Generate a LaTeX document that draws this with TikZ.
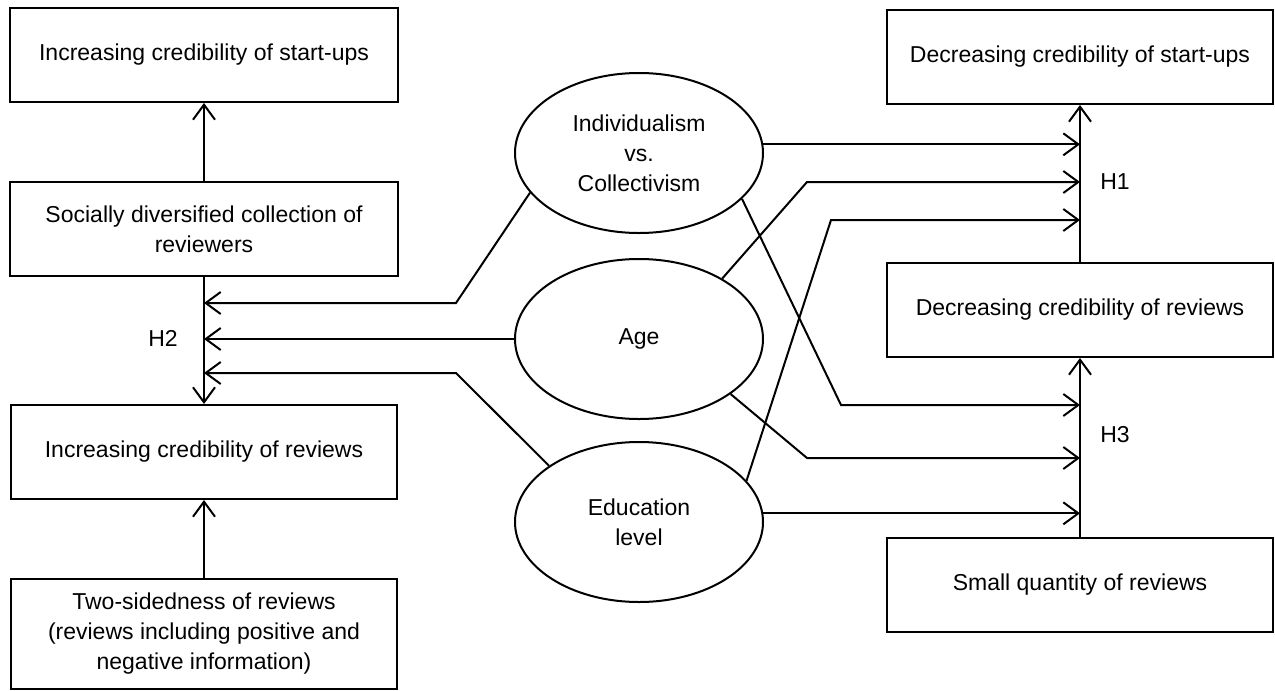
\documentclass[tikz,border=0pt]{standalone}
\usepackage{fontspec}
\setmainfont{Liberation Sans}
\usetikzlibrary{shapes.geometric,arrows.meta}

\tikzset{
  box/.style={draw, line width=2pt, minimum width=388pt, minimum height=94pt, inner sep=0pt, align=center, font=\fontsize{23}{30}\selectfont},
  factor/.style={draw, ellipse, line width=2pt, minimum width=248pt, minimum height=160pt, inner sep=0pt, align=center, font=\fontsize{23}{30}\selectfont},
  arr/.style={line width=2pt, -{Straight Barb[length=15pt,width=22pt]}},
  hyp/.style={font=\fontsize{23}{30}\selectfont}
}

\begin{document}
\begin{tikzpicture}[x=1pt,y=-1pt]
\useasboundingbox (0,0) rectangle (1275,691);

% Left boxes
\node[box] (incStart) at (204,55) {Increasing credibility of start-ups};
\node[box] (diverse) at (204,229) {Socially diversified collection of\\reviewers};
\node[box, minimum width=386pt] (incRev) at (204,452) {Increasing credibility of reviews};
\node[box, minimum width=386pt, minimum height=110pt] (twoSide) at (204,634) {Two-sidedness of reviews\\(reviews including positive and\\negative information)};

% Right boxes
\node[box, minimum width=386pt] (decStart) at (1080,57) {Decreasing credibility of start-ups};
\node[box, minimum width=386pt] (decRev) at (1080,310) {Decreasing credibility of reviews};
\node[box, minimum width=386pt] (smallQ) at (1080,585) {Small quantity of reviews};

% Moderators
\node[factor] (indiv) at (639,153) {Individualism\\vs.\\Collectivism};
\node[factor] (age) at (639,339) {Age};
\node[factor] (edu) at (639,522) {Education\\level};

% Hypotheses
\node[hyp] (h1) at (1115,182) {H1};
\node[hyp] (h2) at (163,338) {H2};
\node[hyp] (h3) at (1115,435) {H3};

% Main effects
\draw[arr] (diverse.north) -- (incStart.south);
\draw[arr] (diverse.south) -- (incRev.north);
\draw[arr] (twoSide.north) -- (incRev.south);
\draw[arr] (decRev.north) -- (decStart.south);
\draw[arr] (smallQ.north) -- (decRev.south);

% Bend points
\coordinate (l1) at (456,303);
\coordinate (l3) at (456,373);
\coordinate (r2) at (807,182);
\coordinate (r3) at (831,220);
\coordinate (s1) at (841,405);
\coordinate (s2) at (807,458);

% H2 moderation
\draw[arr] (indiv.200) -- (l1) -- (l1 -| diverse.south);
\draw[arr] (age.west) -- (age.west -| diverse.south);
\draw[arr] (edu.148) -- (l3) -- (l3 -| diverse.south);

% H1 moderation
\draw[arr] (indiv.4) -- (indiv.4 -| decRev.north);
\draw[arr] (age.36) -- (r2) -- (r2 -| decRev.north);
\draw[arr] (edu.21) -- (r3) -- (r3 -| decRev.north);

% H3 moderation
\draw[arr] (indiv.336) -- (s1) -- (s1 -| smallQ.north);
\draw[arr] (age.329) -- (s2) -- (s2 -| smallQ.north);
\draw[arr] (edu.4) -- (edu.4 -| smallQ.north);

\end{tikzpicture}
\end{document}
